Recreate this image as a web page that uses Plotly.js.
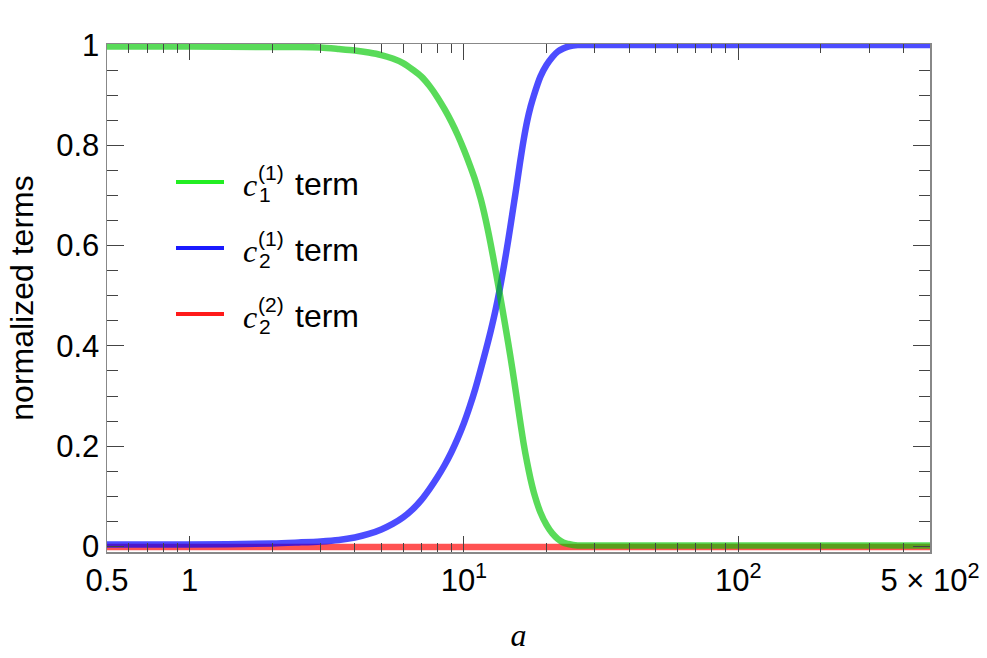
<!DOCTYPE html>
<html>
<head>
<meta charset="utf-8">
<script src="https://cdn.plot.ly/plotly-3.0.1.min.js"></script>
<style>
  body { margin: 0; background: #fff; }
  #chartContainer { width: 987px; height: 658px; }
</style>
</head>
<body>
<div id="chartContainer"></div>
<script>
// values
var aVals = [0.5, 1, 2, 2.5, 3, 3.5, 4, 4.5, 5, 5.5, 6, 6.5, 7, 7.5, 8, 8.5, 9, 9.5, 10, 10.5, 11, 11.5, 12, 12.5, 13, 13.5, 14, 14.5, 15, 15.5, 16, 16.5, 17, 17.5, 18, 19, 20, 21, 22, 23, 24, 25, 26, 28, 30, 50, 100, 200, 500];
var c1Term = [0.997, 0.997, 0.996, 0.996, 0.995, 0.992, 0.989, 0.985, 0.980, 0.973, 0.964, 0.951, 0.937, 0.918, 0.896, 0.872, 0.847, 0.820, 0.791, 0.761, 0.730, 0.694, 0.652, 0.605, 0.555, 0.505, 0.455, 0.406, 0.356, 0.304, 0.253, 0.206, 0.167, 0.134, 0.107, 0.068, 0.043, 0.026, 0.015, 0.008, 0.005, 0.003, 0.002, 0.002, 0.002, 0.002, 0.002, 0.002, 0.002];
var c21Term = [0.004, 0.004, 0.006, 0.008, 0.010, 0.013, 0.018, 0.025, 0.034, 0.045, 0.058, 0.074, 0.093, 0.115, 0.138, 0.162, 0.188, 0.216, 0.246, 0.279, 0.314, 0.352, 0.390, 0.428, 0.468, 0.512, 0.560, 0.610, 0.662, 0.713, 0.764, 0.810, 0.848, 0.877, 0.900, 0.937, 0.960, 0.976, 0.987, 0.993, 0.997, 0.999, 1.0, 1.0, 1.0, 1.0, 1.0, 1.0, 1.0];
var c22Term = [-0.001, -0.001, -0.001, -0.001, -0.001, -0.001, -0.001, -0.001, -0.001, -0.001, -0.001, -0.001, -0.001, -0.001, -0.001, -0.001, -0.001, -0.001, -0.001, -0.001, -0.001, -0.001, -0.001, -0.001, -0.001, -0.001, -0.001, -0.001, -0.001, -0.001, -0.001, -0.001, -0.001, -0.001, -0.001, -0.001, -0.001, -0.001, -0.001, -0.001, -0.001, -0.001, -0.001, -0.001, -0.001, -0.001, -0.001, -0.001, -0.001];

var xTickVals = [0.5, 1, 10, 100, 500];
var xTickText = ['0.5', '1', '10<sup>1</sup>', '10<sup>2</sup>', '5 \u00d7 10<sup>2</sup>'];
var xMinor = [0.6, 0.7, 0.8, 0.9, 2, 3, 4, 5, 6, 7, 8, 9, 20, 30, 40, 50, 60, 70, 80, 90, 200, 300, 400];
var yTickVals = [0, 0.2, 0.4, 0.6, 0.8, 1];
var yTickText = ['0', '0.2', '0.4', '0.6', '0.8', '1'];

var legendNames = [['1', '(1)'], ['2', '(1)'], ['2', '(2)']];
var legendColors = ['#22ee22', '#1a1aff', '#ff1a1a'];

// plot area in pixels: left 107, right 930, top 44, bottom 552
function px(x) { return (x - 107) / 823; }
function py(y) { return (552 - y) / 508; }

var traces = [
    {x: aVals, y: c22Term, type: 'scatter', mode: 'lines',
     line: {color: 'rgba(255,0,0,0.68)', width: 6.5, shape: 'spline', smoothing: 0.8}},
    {x: aVals, y: c21Term, type: 'scatter', mode: 'lines',
     line: {color: 'rgba(0,0,255,0.7)', width: 6.5, shape: 'spline', smoothing: 0.8}},
    {x: aVals, y: c1Term, type: 'scatter', mode: 'lines',
     line: {color: 'rgba(0,200,0,0.65)', width: 6.5, shape: 'spline', smoothing: 0.8}}
];

var shapes = [];
var annotations = [];
legendNames.forEach(function (nm, i) {
    var dy = i * 66;
    shapes.push({type: 'line', xref: 'paper', yref: 'paper',
        x0: px(176), x1: px(224), y0: py(182 + dy), y1: py(182 + dy),
        line: {color: legendColors[i], width: 4}});
    annotations.push({xref: 'paper', yref: 'paper', x: px(241), y: py(185 + dy),
        xanchor: 'left', yanchor: 'middle', showarrow: false, text: '<i>c</i>',
        font: {family: 'Liberation Serif, Times New Roman, serif', size: 32, color: '#000'}});
    annotations.push({xref: 'paper', yref: 'paper', x: px(257), y: py(194 + dy),
        xanchor: 'left', yanchor: 'middle', showarrow: false, text: nm[0],
        font: {family: 'Liberation Sans, Arial, sans-serif', size: 21, color: '#000'}});
    annotations.push({xref: 'paper', yref: 'paper', x: px(256), y: py(172 + dy),
        xanchor: 'left', yanchor: 'middle', showarrow: false, text: nm[1],
        font: {family: 'Liberation Sans, Arial, sans-serif', size: 21, color: '#000'}});
    annotations.push({xref: 'paper', yref: 'paper', x: px(293), y: py(184 + dy),
        xanchor: 'left', yanchor: 'middle', showarrow: false, text: 'term',
        font: {family: 'Liberation Sans, Arial, sans-serif', size: 32, color: '#000'}});
});

var layout = {
    width: 987,
    height: 658,
    margin: {l: 107, r: 57, t: 44, b: 106},
    paper_bgcolor: '#fff',
    plot_bgcolor: '#fff',
    showlegend: false,
    font: {family: 'Liberation Sans, Arial, sans-serif', size: 31, color: '#000'},
    xaxis: {
        type: 'log',
        range: [Math.log10(0.5), Math.log10(500)],
        tickmode: 'array',
        tickvals: xTickVals,
        ticktext: xTickText,
        ticks: 'inside',
        ticklen: 16,
        tickwidth: 1,
        tickcolor: '#444',
        showline: true,
        linecolor: '#888',
        linewidth: 1.5,
        mirror: 'ticks',
        showgrid: false,
        zeroline: false,
        minor: {tickmode: 'array', tickvals: xMinor, ticks: 'inside', ticklen: 9,
                tickwidth: 1, tickcolor: '#444', showgrid: false},
        title: {text: '<i>a</i>', standoff: 27,
                font: {family: 'Liberation Serif, Times New Roman, serif', size: 32}}
    },
    yaxis: {
        range: [-0.011, 1.002],
        tickmode: 'array',
        tickvals: yTickVals,
        ticktext: yTickText,
        ticks: 'inside',
        ticklen: 17,
        tickwidth: 1,
        tickcolor: '#444',
        showline: true,
        linecolor: '#888',
        linewidth: 1.5,
        mirror: 'ticks',
        showgrid: false,
        zeroline: false,
        minor: {dtick: 0.05, ticks: 'inside', ticklen: 11, tickwidth: 1,
                tickcolor: '#444', showgrid: false},
        title: {text: 'normalized terms', standoff: 13,
                font: {family: 'Liberation Sans, Arial, sans-serif', size: 32}}
    },
    shapes: shapes,
    annotations: annotations
};

Plotly.newPlot('chartContainer', traces, layout, {displayModeBar: false, staticPlot: true});
</script>
</body>
</html>
